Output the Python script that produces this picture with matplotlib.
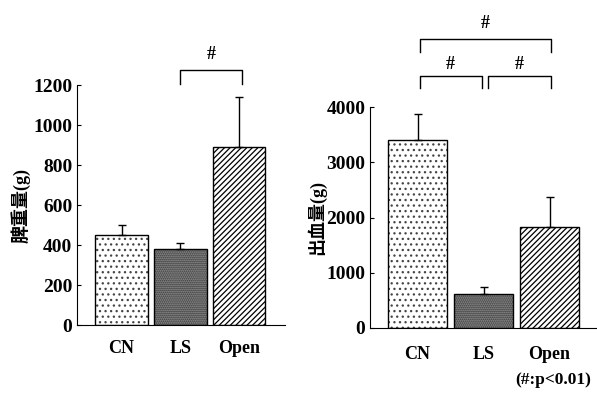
import matplotlib.pyplot as plt

plt.rcParams['font.family'] = ['Liberation Serif', 'Noto Sans CJK JP']
plt.rcParams['font.weight'] = 'bold'
plt.rcParams['hatch.linewidth'] = 0.9

groups = ["CN", "LS", "Open"]

# spleen weight (g)
spleen = [450, 380, 890]
spleen_err = [50, 30, 250]

# blood loss (g)
blood = [3400, 620, 1820]
blood_err = [470, 120, 560]

faces = ["white", "#3f3f3f", "white"]
hatch_cols = ["#444444", "#a0a0a0", "black"]
hatches = ["...", "........", "//////"]


def draw_bars(ax, vals, errs, width, pad):
    x = range(len(vals))
    for i in x:
        ax.bar(i, vals[i], width, color=faces[i], edgecolor=hatch_cols[i],
               hatch=hatches[i], linewidth=0)
        ax.bar(i, vals[i], width, fill=False, edgecolor="black", linewidth=1)
    ax.errorbar(list(x), vals, yerr=[[0] * len(vals), errs], fmt="none",
                ecolor="black", elinewidth=1, capsize=3, capthick=1)
    ax.set_xticks(list(x))
    ax.set_xticklabels(groups, fontsize=13, fontweight="bold")
    ax.tick_params(axis="x", length=0, pad=pad)
    ax.tick_params(axis="y", direction="in", length=3, labelsize=14)
    for lab in ax.get_yticklabels():
        lab.set_fontweight("bold")
    ax.spines["top"].set_visible(False)
    ax.spines["right"].set_visible(False)


def bracket(ax, x0, x1, y_top, y_bot, y_text):
    ax.plot([x0, x0, x1, x1], [y_bot, y_top, y_top, y_bot], color="black",
            lw=1, clip_on=False)
    ax.text((x0 + x1) / 2, y_text, "#", ha="center", va="center",
            fontsize=13, fontweight="bold")


fig = plt.figure(figsize=(5.97, 3.98), dpi=100)

ax1 = fig.add_axes([0.129, 0.183, 0.348, 0.603])
draw_bars(ax1, spleen, spleen_err, 0.9, 11)
ax1.set_xlim(-0.76, 2.78)
ax1.set_ylim(0, 1200)
ax1.set_yticks(range(0, 1201, 200))
ax1.set_ylabel("脾重量(g)", fontsize=13, fontweight="bold", labelpad=2)
bracket(ax1, 1.0, 2.05, 1275, 1205, 1355)

ax2 = fig.add_axes([0.62, 0.176, 0.38, 0.555])
draw_bars(ax2, blood, blood_err, 0.89, 13)
ax2.set_xlim(-0.72, 2.72)
ax2.set_ylim(0, 4000)
ax2.set_yticks(range(0, 4001, 1000))
ax2.set_ylabel("出血量(g)", fontsize=13, fontweight="bold", labelpad=0)
bracket(ax2, 0.03, 2.03, 5230, 4995, 5520)
bracket(ax2, 0.03, 0.97, 4560, 4345, 4770)
bracket(ax2, 1.06, 2.03, 4560, 4345, 4770)

fig.text(0.99, 0.045, "(#:p<0.01)", ha="right", va="center",
         fontsize=12.5, fontweight="bold")

fig.savefig("out.png", dpi=100)
